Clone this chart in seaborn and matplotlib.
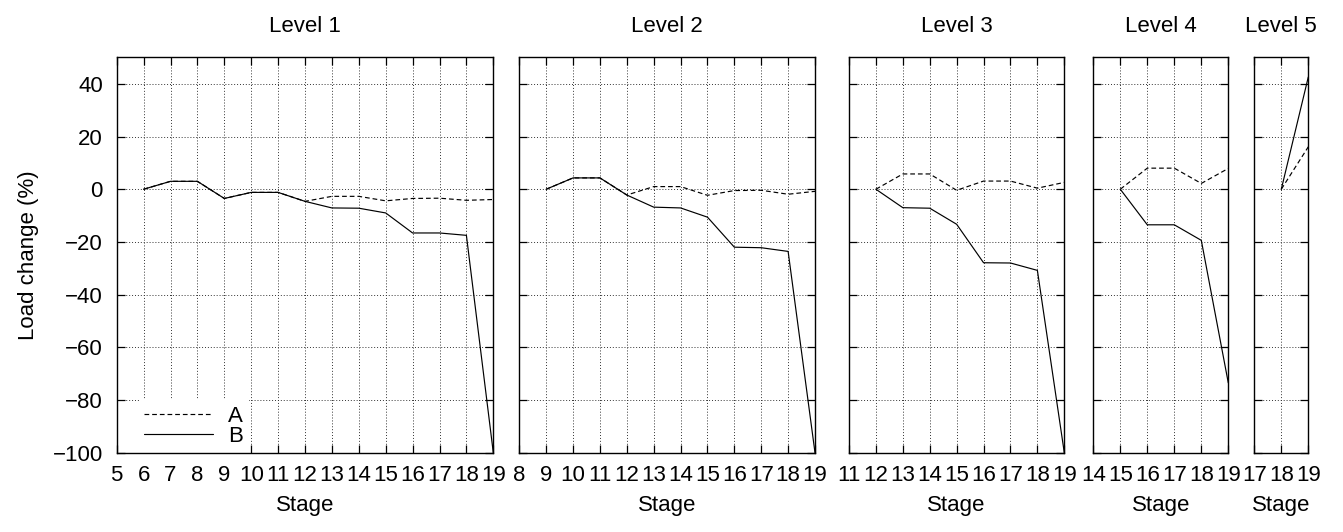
import matplotlib
matplotlib.use("Agg")
import matplotlib.pyplot as plt
import seaborn as sns
import pandas as pd
import numpy as np

# ---- data ----
levels = ["Level 1", "Level 2", "Level 3", "Level 4", "Level 5"]
x_start = [5, 8, 11, 14, 17]

stages_1 = [6, 7, 8, 9, 10, 11, 12, 13, 14, 15, 16, 17, 18, 19]
a_1 = [0, 3.0, 3.0, -3.5, -1.2, -1.2, -4.6, -2.7, -2.7, -4.4, -3.5, -3.4, -4.2, -3.9]
b_1 = [0, 3.0, 3.0, -3.5, -1.2, -1.2, -4.6, -7.1, -7.2, -9.0, -16.6, -16.6, -17.5, -100]

stages_2 = [9, 10, 11, 12, 13, 14, 15, 16, 17, 18, 19]
a_2 = [0, 4.3, 4.3, -2.2, 1.0, 1.0, -2.3, -0.5, -0.4, -1.9, -0.8]
b_2 = [0, 4.3, 4.3, -2.2, -6.8, -7.1, -10.6, -22.0, -22.2, -23.6, -100]

stages_3 = [12, 13, 14, 15, 16, 17, 18, 19]
a_3 = [0, 5.8, 5.8, -0.4, 3.1, 3.1, 0.4, 2.6]
b_3 = [0, -7.0, -7.2, -13.3, -27.9, -28.0, -30.8, -100]

stages_4 = [15, 16, 17, 18, 19]
a_4 = [0, 8.0, 8.0, 2.2, 7.9]
b_4 = [0, -13.5, -13.5, -19.4, -73.5]

stages_5 = [18, 19]
a_5 = [0, 16.1]
b_5 = [0, 42.6]

stages = [stages_1, stages_2, stages_3, stages_4, stages_5]
series_a = [a_1, a_2, a_3, a_4, a_5]
series_b = [b_1, b_2, b_3, b_4, b_5]
y_ticks = [-100, -80, -60, -40, -20, 0, 20, 40]

# ---- style ----
sns.set_theme(style="white")
plt.rcParams["font.family"] = ["Liberation Sans", "DejaVu Sans"]
plt.rcParams["axes.unicode_minus"] = True
for key in ["text.color", "axes.labelcolor", "xtick.color", "ytick.color"]:
    plt.rcParams[key] = "black"
FS = 16

W, H = 1343, 532
fig = plt.figure(figsize=(W / 100, H / 100), dpi=100)
fig.patch.set_facecolor("white")

panel_px = [(116.7, 493.3), (519.3, 815.0), (849.0, 1064.3), (1093.3, 1228.3), (1254.3, 1308.3)]
top_px, bot_px = 57.5, 452.7

for i, (l, r) in enumerate(panel_px):
    ax = fig.add_axes([l / W, 1 - bot_px / H, (r - l) / W, (bot_px - top_px) / H])
    ax.set_facecolor("white")
    df = pd.DataFrame({"Stage": stages[i], "A": series_a[i], "B": series_b[i]})
    sns.lineplot(data=df, x="Stage", y="A", ax=ax, color="black", lw=0.85,
                 linestyle=(0, (4, 2.5)), label="A" if i == 0 else None, zorder=3)
    sns.lineplot(data=df, x="Stage", y="B", ax=ax, color="black", lw=0.85,
                 linestyle="-", label="B" if i == 0 else None, zorder=3)
    ax.set_xlim(x_start[i], 19)
    ax.set_ylim(-100, 50)
    ax.set_xticks(np.arange(x_start[i], 20))
    ax.set_xticklabels([str(v) for v in range(x_start[i], 20)], fontsize=FS)
    ax.set_yticks(y_ticks)
    ax.grid(True, color="#333333", linestyle=(0, (1, 2)), linewidth=0.7, zorder=0)
    ax.set_axisbelow(True)
    ax.tick_params(direction="in", length=6, width=0.9, color="black",
                   labelcolor="black", top=True, right=True, bottom=True, left=True,
                   labelsize=FS)
    ax.tick_params(axis="x", pad=8.5)
    ax.tick_params(axis="y", pad=10)
    for s in ax.spines.values():
        s.set_color("black")
        s.set_linewidth(1.0)
        s.set_visible(True)
    ax.set_title(levels[i], fontsize=FS, pad=18.6, color="black")
    ax.set_xlabel("Stage", fontsize=FS, labelpad=7, color="black")
    if i == 0:
        ax.set_yticklabels([str(v).replace("-", "\u2212") for v in y_ticks], fontsize=FS)
        ax.set_ylabel("Load change (%)", fontsize=FS, labelpad=10, color="black")
        leg = ax.legend(loc="lower left", bbox_to_anchor=(0.058, 0.0), frameon=True,
                        fontsize=FS, handlelength=3.08, handletextpad=0.68,
                        borderpad=0.26, labelspacing=-0.03, borderaxespad=0.0)
        leg.get_frame().set_facecolor("white")
        leg.get_frame().set_edgecolor("none")
        leg.get_frame().set_alpha(1.0)
        leg.get_frame().set_boxstyle("square", pad=0)
        leg.set_zorder(2)
        for t in leg.get_texts():
            t.set_color("black")
    else:
        ax.set_yticklabels([])
        ax.set_ylabel("")

fig.savefig("out.png", dpi=100, facecolor="white")
